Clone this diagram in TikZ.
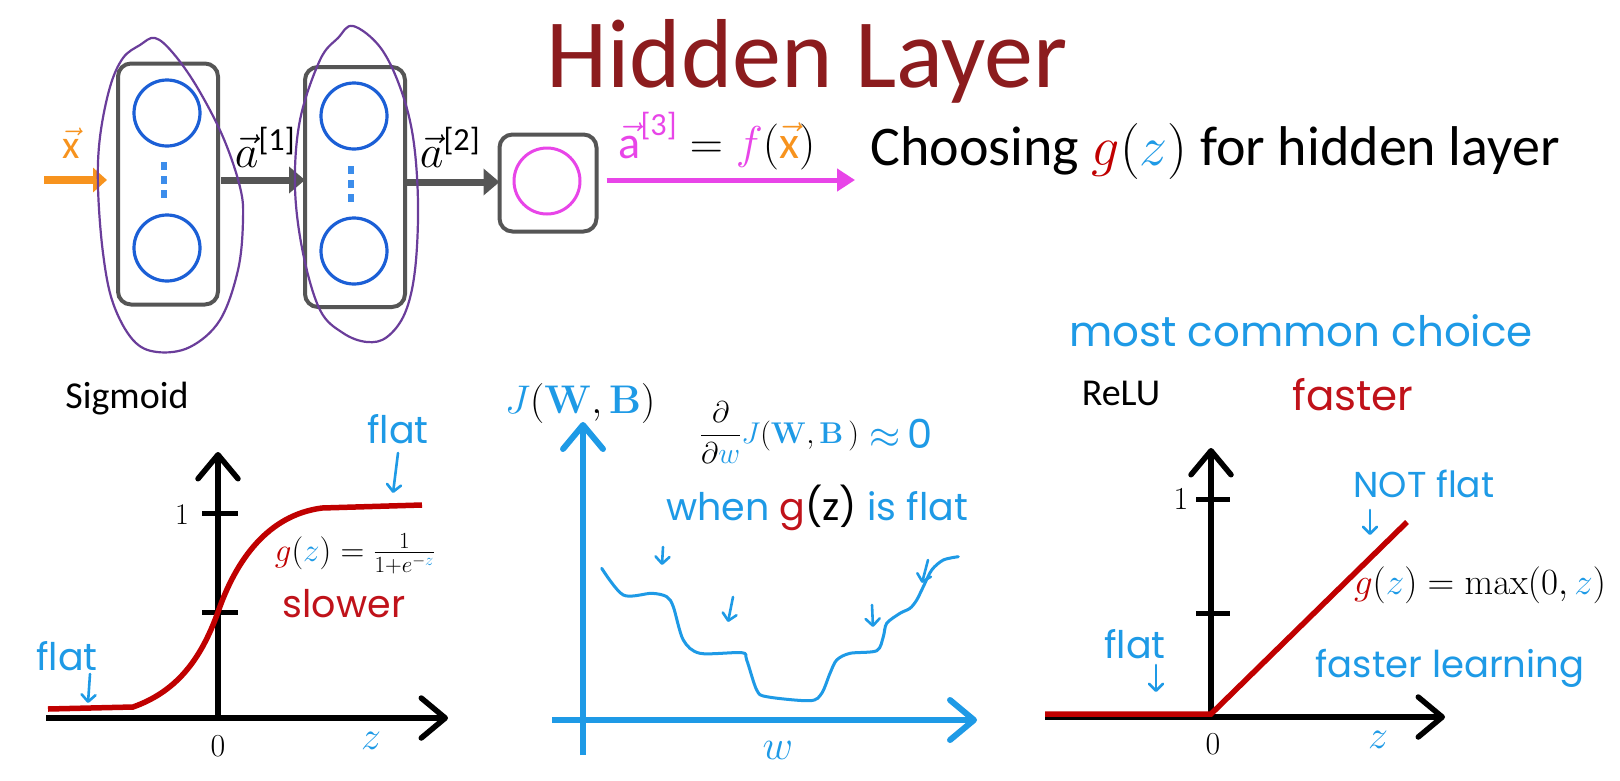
\documentclass[tikz,border=0pt]{standalone}
\usepackage{fix-cm}
\usepackage{amsmath}
\usepackage[no-math]{fontspec}
\setmainfont{Carlito}
\newfontfamily\hw{Poppins}
\usetikzlibrary{arrows.meta}
\definecolor{titlered}{HTML}{8C1C1E}
\definecolor{hblue}{HTML}{1E9AE6}
\definecolor{nblue}{HTML}{1B5FD6}
\definecolor{dotblue}{HTML}{3C8DEB}
\definecolor{netgray}{HTML}{555555}
\definecolor{mag}{HTML}{E845E8}
\definecolor{orng}{HTML}{F7931E}
\definecolor{cred}{HTML}{C00000}
\definecolor{hred}{HTML}{C0121A}
\definecolor{purp}{HTML}{6A3D9A}
\newcommand\fsz[1]{\fontsize{#1}{#1}\selectfont}
\begin{document}
\begin{tikzpicture}[x=1pt,y=-1pt,
  every node/.style={inner sep=0pt, outer sep=0pt},
  netbox/.style={draw=netgray, line width=4pt, rounded corners=13pt},
  neuron/.style={circle, draw=nblue, line width=3.2pt, minimum size=66pt},
  ndot/.style={fill=dotblue, minimum width=6pt, minimum height=8pt},
  orangearrow/.style={draw=orng, line width=8pt, -{Triangle[length=14pt,width=24pt]}},
  grayarrow/.style={draw=netgray, line width=7pt, -{Triangle[length=16pt,width=26pt]}},
  magarrow/.style={draw=mag, line width=5pt, -{Triangle[length=18pt,width=22pt]}},
  purploop/.style={draw=purp, line width=2.2pt},
  axb/.style={draw=black, line width=5.5pt, -{Straight Barb[length=24pt,width=40pt,round]}},
  axbl/.style={draw=hblue, line width=6pt, -{Straight Barb[length=24pt,width=40pt,round]}},
  tickb/.style={draw=black, line width=5pt},
  redcurve/.style={draw=cred, line width=5.5pt},
  hwarr/.style={draw=hblue, line width=2.6pt, line cap=round, -{Straight Barb[length=7pt,width=14pt,round]}},
  hwtext/.style={text=hblue, font={\hw\fsz{38}}, anchor=base},
]
\useasboundingbox[fill=white] (0,0) rectangle (1620,780);

% ---------- title ----------
\node[text=titlered, font=\fsz{98}, anchor=base] (title) at (807,87) {Hidden Layer};
\node[font=\fsz{56}, anchor=base] (choose) at (1215,165) {Choosing ${\color{cred}g}({\color{hblue}z})$ for hidden layer};

% ---------- network ----------
\node[netbox, minimum width=100pt, minimum height=241pt] (L1) at (168,184) {};
\node[netbox, minimum width=100pt, minimum height=240pt] (L2) at (355,187) {};
\node[netbox, minimum width=97pt, minimum height=97pt] (L3) at (548,183) {};
\node[neuron] (n11) at (167,113) {};
\node[neuron] (n12) at (167,248) {};
\node[neuron] (n21) at (354,116) {};
\node[neuron] (n22) at (354,251) {};
\node[circle, draw=mag, line width=3pt, minimum size=66pt] (n3) at (547,181) {};
\node[ndot] (d11) at (164,166) {};
\node[ndot] (d12) at (164,180) {};
\node[ndot] (d13) at (164,194) {};
\node[ndot] (d21) at (351,170) {};
\node[ndot] (d22) at (351,184) {};
\node[ndot] (d23) at (351,198) {};

\coordinate (xin) at (44,180);
\coordinate (yout) at (855,180);
\draw[orangearrow, shorten >=11pt] (xin) -- (xin -| L1.west);
\draw[grayarrow, shorten <=3pt] ([yshift=4pt]L1.east) -- ([yshift=4pt]L1.east -| L2.west);
\draw[grayarrow, shorten <=1pt] ([yshift=1pt]L3.west -| L2.east) -- ([yshift=1pt]L3.west);
\draw[magarrow, shorten <=10pt] (L3.east |- yout) -- (yout);

\node[font=\fsz{40}, text=orng, anchor=base] (xlab) at (71,158) {$\vec{\text{x}}$};
\node[font=\fsz{46}, anchor=base] (a1lab) at (265,167) {$\vec{a}^{\text{[1]}}$};
\node[font=\fsz{46}, anchor=base] (a2lab) at (450,167) {$\vec{a}^{\text{[2]}}$};
\node[font=\fsz{46}, anchor=base] (a3lab) at (717,158) {${\color{mag}\vec{\text{a}}^{\text{[3]}}} = {\color{mag}f}({\color{orng}\vec{\text{x}}})$};

% purple hand-drawn loops
\draw[purploop] plot[smooth cycle, tension=0.6] coordinates {
 (155,38) (173,53) (197,87) (223,137) (240,187) (243,220) (238,270) (220,320) (190,347)
 (157,352) (133,340) (113,303) (103,253) (98,187) (100,137) (110,87) (123,58) (140,45)};
\draw[purploop] plot[smooth cycle, tension=0.6] coordinates {
 (353,26) (380,47) (400,87) (413,137) (418,203) (415,270) (405,313) (387,337) (367,342)
 (343,333) (320,310) (303,253) (295,187) (300,120) (320,60) (338,38)};

% ---------- sigmoid panel ----------
\node[font=\fsz{38}, anchor=base] (sig) at (127,408) {Sigmoid};
\coordinate (so) at (218,718);
\coordinate (sx0) at (46,718);
\coordinate (sx1) at (448,718);
\coordinate (sy1) at (218,452);
\draw[axb] (sx0) -- (sx1);
\draw[axb] (so) -- (sy1);
\draw[tickb] (202,513) -- (238,513);
\draw[tickb] (202,612) -- (238,612);
\draw[redcurve] (48,709) -- (133,707) .. controls (175,692) and (200,662) .. (218,612)
   .. controls (236,560) and (268,515) .. (322,508) -- (422,505);
\node[font=\fsz{30}] (s1) at (182,515) {$1$};
\node[font=\fsz{32}] (s0) at (218,746) {$0$};
\node[font=\fsz{40}, text=hblue] (sz) at (371,741) {$z$};
\node[font=\fsz{33}, anchor=base] (sform) at (355,561) {${\color{cred}g}({\color{hblue}z}) = \frac{1}{1+e^{-{\color{hblue}z}}}$};
\node[hwtext] (sflat1) at (398,443) {flat};
\node[hwtext] (sflat2) at (67,670) {flat};
\node[hwtext, text=hred] (slow) at (344,617) {slower};
\draw[hwarr] (398,453) -- (393,493);
\draw[hwarr] (90,674) -- (88,703);

% ---------- cost panel ----------
\node[font=\fsz{40}, anchor=base] (jlab) at (580,413) {${\color{hblue}J}({\color{hblue}\mathbf{W}},{\color{hblue}\mathbf{B}})$};
\draw[axbl] (552,720) -- (977,720);
\draw[axbl] (583,755) -- (583,422);
\draw[draw=hblue, line width=3pt, line cap=round] plot[smooth, tension=0.5] coordinates {
 (601.7,568.3) (623.3,595) (651.7,593.3) (666.7,596.7) (673.3,606.7) (683.3,640) (700,653.3)
 (741.7,652.7) (746.7,660) (756.7,690) (766.7,696.7) (810,700.7) (821.7,693.3) (830,673.3)
 (836.7,660) (850,653.3) (876.7,650.7) (883.3,636.7) (886.7,623.3) (900,613.3) (910,608.3)
 (916.7,600) (923.3,586.7) (931.7,570) (943.3,560) (958.3,556.7)};
\node[font=\fsz{30}, anchor=base west] (deriv) at (700,443) {$\dfrac{\partial}{\partial{\color{hblue}w}}{\color{hblue}J}({\color{hblue}\mathbf{W}},{\color{hblue}\mathbf{B}}\,)$};
\node[text=hblue, font=\fsz{40}, anchor=base] (approx) at (901,448) {$\approx$\,{\hw 0}};
\node[hwtext] (when) at (817,520) {when {\color{hred}g}{\color{black}(z)} is flat};
\node[font=\fsz{42}, text=hblue] (wlab) at (778,750) {$w$};
\draw[hwarr] (663,547) -- (662,565);
\draw[hwarr] (733,597) -- (728,622);
\draw[hwarr] (872,605) -- (873,627);
\draw[hwarr] (928,560) -- (922,583);

% ---------- ReLU panel ----------
\node[hwtext, font={\hw\fsz{42}}] (common) at (1301,346) {most common choice};
\node[font=\fsz{38}, anchor=base] (relu) at (1121,405) {ReLU};
\node[hwtext, text=hred, font={\hw\fsz{42}}] (fast) at (1353,410) {faster};
\draw[axb] (1045,717) -- (1445,717);
\draw[axb] (1211,717) -- (1211,448);
\draw[tickb] (1196,499) -- (1230,499);
\draw[tickb] (1196,613) -- (1230,613);
\draw[redcurve] (1045,714) -- (1211,714) -- (1407,522);
\node[font=\fsz{32}] (r1) at (1181,499) {$1$};
\node[font=\fsz{32}] (r0) at (1213,744) {$0$};
\node[font=\fsz{40}, text=hblue] (rz) at (1378,740) {$z$};
\node[font=\fsz{37}, anchor=base] (rform) at (1480,594) {${\color{cred}g}({\color{hblue}z}) = \max(0,{\color{hblue}z})$};
\node[hwtext, font={\hw\fsz{36}}] (notflat) at (1424,497) {NOT flat};
\node[hwtext] (rflat) at (1135,658) {flat};
\node[hwtext, font={\hw\fsz{37}}] (fl) at (1450,677) {faster learning};
\draw[hwarr] (1370,510) -- (1370,535);
\draw[hwarr] (1156,665) -- (1156,692);
\end{tikzpicture}
\end{document}
